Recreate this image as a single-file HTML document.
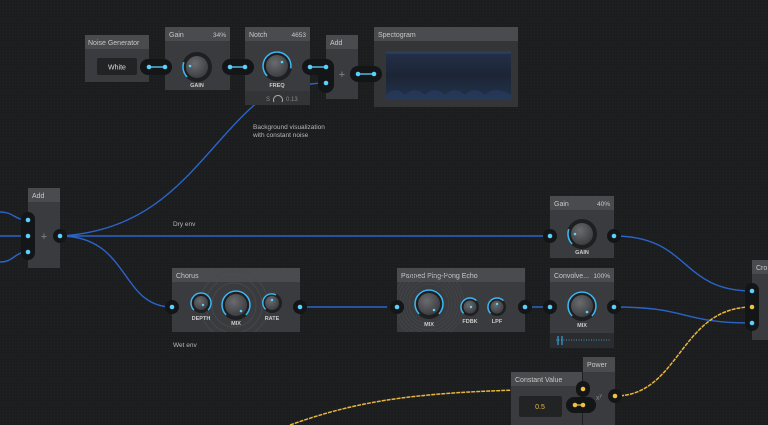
<!DOCTYPE html>
<html><head><meta charset="utf-8"><style>
html,body{margin:0;padding:0;background:#1b1c1e;width:768px;height:425px;overflow:hidden}
svg{display:block}
text{font-family:"Liberation Sans",sans-serif}
</style></head><body>
<svg width="768" height="425" viewBox="0 0 768 425" xmlns="http://www.w3.org/2000/svg">
<defs>
<pattern id="tex" width="3" height="3" patternUnits="userSpaceOnUse"><rect width="3" height="3" fill="#1c1d1f"/><rect width="1" height="1" fill="#232426"/></pattern>
<radialGradient id="kn" cx="0.4" cy="0.35" r="0.7"><stop offset="0" stop-color="#6a6b6e"/><stop offset="1" stop-color="#3a3b3e"/></radialGradient>
<linearGradient id="sp" x1="0" y1="0" x2="0" y2="1"><stop offset="0" stop-color="#23304a"/><stop offset="0.5" stop-color="#1c2535"/><stop offset="1" stop-color="#22324c"/></linearGradient>
</defs>
<rect width="768" height="425" fill="url(#tex)"/>

<!-- wires -->
<g fill="none" stroke="#2a64c8" stroke-width="1.4">
<path d="M0 212 C14 212 14 220 28 220"/>
<path d="M0 236 L28 236"/>
<path d="M0 262 C14 262 14 252 28 252"/>
<path d="M60 236 L550 236"/>
<path d="M60 236 C130 236 120 307 172 307"/>
<path d="M60 236 C170 230 200 150 260 100"/>
<path d="M290 88 C305 84 315 83 326 83"/>
<path d="M300 307 L397 307"/>
<path d="M525 307 L550 307"/>
<path d="M614 236 C690 236 680 291 752 291"/>
<path d="M614 307 C690 307 680 323 752 323"/>
</g>
<g fill="none" stroke="#e8b63c" stroke-width="1.5" stroke-dasharray="4 1">
<path d="M290 425 C360 400 420 390 583 389"/>
<path d="M615 396 C680 396 680 307 752 307"/>
</g>

<!-- Noise Generator -->
<rect x="85" y="35" width="64" height="47" fill="#3a3b3e"/>
<rect x="85" y="35" width="64" height="14" fill="#4a4b4e"/>
<text x="88" y="45" font-size="7" fill="#c8c8c8">Noise Generator</text>
<rect x="97" y="58" width="40" height="17" rx="2" fill="#222325"/>
<text x="117" y="69.5" font-size="7" fill="#ddd" text-anchor="middle">White</text>

<!-- Gain -->
<rect x="165" y="27" width="65" height="63" fill="#3a3b3e"/>
<rect x="165" y="27" width="65" height="14" fill="#4a4b4e"/>
<text x="169" y="37" font-size="7" fill="#c8c8c8">Gain</text>
<text x="226" y="37" font-size="6.5" fill="#c8c8c8" text-anchor="end">34%</text>
<circle cx="197" cy="67" r="15" fill="#1e1f21"/>
<path d="M187.1 76.9 A14 14 0 0 1 183.8 62.2" fill="none" stroke="#3fb6f0" stroke-width="1.6"/>
<circle cx="197" cy="67" r="11" fill="url(#kn)"/>
<circle cx="190" cy="66" r="1.3" fill="#5ad0ff"/>
<text x="197" y="87" font-size="5.5" fill="#ccc" text-anchor="middle" font-weight="bold">GAIN</text>

<!-- Notch -->
<rect x="245" y="27" width="65" height="78" fill="#3a3b3e"/>
<rect x="245" y="27" width="65" height="14" fill="#4a4b4e"/>
<rect x="245" y="91" width="65" height="14" fill="#333436"/>
<text x="249" y="37" font-size="7" fill="#c8c8c8">Notch</text>
<text x="306" y="37" font-size="6.5" fill="#c8c8c8" text-anchor="end">4653</text>
<circle cx="277" cy="66" r="15" fill="#1e1f21"/>
<path d="M267.1 75.9 A14 14 0 1 1 290.8 68.4" fill="none" stroke="#3fb6f0" stroke-width="1.6"/>
<circle cx="277" cy="66" r="11" fill="url(#kn)"/>
<circle cx="282" cy="62" r="1.3" fill="#5ad0ff"/>
<text x="277" y="87" font-size="5.5" fill="#ccc" text-anchor="middle" font-weight="bold">FREQ</text>
<text x="266" y="101" font-size="6" fill="#888" font-family="Liberation Mono">S</text>
<path d="M274 102 A4.5 4.5 0 1 1 282 102" fill="none" stroke="#aaa" stroke-width="1"/>
<text x="286" y="101" font-size="6" fill="#888" font-family="Liberation Mono">0.13</text>

<!-- Add top -->
<rect x="326" y="35" width="32" height="64" fill="#3a3b3e"/>
<rect x="326" y="35" width="32" height="14" fill="#4a4b4e"/>
<text x="330" y="45" font-size="7" fill="#c8c8c8">Add</text>
<text x="342" y="78" font-size="11" fill="#888" text-anchor="middle">+</text>

<!-- Spectogram -->
<rect x="374" y="27" width="144" height="80" fill="#343537"/>
<rect x="374" y="27" width="144" height="14" fill="#4a4b4e"/>
<text x="378" y="37" font-size="7" fill="#c8c8c8">Spectogram</text>
<rect x="386" y="51" width="125" height="49" fill="url(#sp)"/>
<rect x="386" y="51" width="125" height="3" fill="#2b3c58"/>
<path d="M386 100 L386 95 Q395 85 405 95 Q415 85 425 95 Q435 85 445 95 Q455 85 465 95 Q475 85 485 95 Q495 85 511 95 L511 100 Z" fill="#2a3e60" opacity="0.6"/>

<!-- connector pills top -->
<g>
<rect x="140" y="59" width="32" height="16" rx="8" fill="#141517"/>
<line x1="149" y1="67" x2="165" y2="67" stroke="#5ad0ff" stroke-width="1.3"/>
<circle cx="149" cy="67" r="2.3" fill="#5ad0ff"/><circle cx="165" cy="67" r="2.3" fill="#5ad0ff"/>
<rect x="222" y="59" width="32" height="16" rx="8" fill="#141517"/>
<line x1="230" y1="67" x2="245" y2="67" stroke="#5ad0ff" stroke-width="1.3"/>
<circle cx="230" cy="67" r="2.3" fill="#5ad0ff"/><circle cx="245" cy="67" r="2.3" fill="#5ad0ff"/>
<rect x="302" y="59" width="32" height="16" rx="8" fill="#141517"/>
<rect x="318" y="59" width="16" height="34" rx="8" fill="#141517"/>
<line x1="310" y1="67" x2="326" y2="67" stroke="#5ad0ff" stroke-width="1.3"/>
<circle cx="310" cy="67" r="2.3" fill="#5ad0ff"/><circle cx="326" cy="67" r="2.3" fill="#5ad0ff"/>
<circle cx="326" cy="83" r="2.3" fill="#5ad0ff"/>
<rect x="350" y="66" width="32" height="16" rx="8" fill="#141517"/>
<line x1="358" y1="74" x2="374" y2="74" stroke="#5ad0ff" stroke-width="1.3"/>
<circle cx="358" cy="74" r="2.3" fill="#5ad0ff"/><circle cx="374" cy="74" r="2.3" fill="#5ad0ff"/>
</g>

<text x="253" y="129" font-size="6.5" fill="#b8b8b8">Background visualization</text>
<text x="253" y="137" font-size="6.5" fill="#b8b8b8">with constant noise</text>

<!-- Add left -->
<rect x="28" y="188" width="32" height="80" fill="#3a3b3e"/>
<rect x="28" y="188" width="32" height="14" fill="#4a4b4e"/>
<text x="32" y="198" font-size="7" fill="#c8c8c8">Add</text>
<text x="44" y="240" font-size="11" fill="#888" text-anchor="middle">+</text>
<rect x="21" y="212" width="14" height="48" rx="7" fill="#141517"/>
<circle cx="28" cy="220" r="2.3" fill="#5ad0ff"/><circle cx="28" cy="236" r="2.3" fill="#5ad0ff"/><circle cx="28" cy="252" r="2.3" fill="#5ad0ff"/>
<circle cx="60" cy="236" r="7" fill="#141517"/><circle cx="60" cy="236" r="2.3" fill="#5ad0ff"/>

<text x="173" y="226" font-size="6.5" fill="#b8b8b8">Dry env</text>
<text x="173" y="347" font-size="6.5" fill="#b8b8b8">Wet env</text>

<!-- Gain 2 -->
<rect x="550" y="196" width="64" height="62" fill="#3a3b3e"/>
<rect x="550" y="196" width="64" height="14" fill="#4a4b4e"/>
<text x="554" y="206" font-size="7" fill="#c8c8c8">Gain</text>
<text x="610" y="206" font-size="6.5" fill="#c8c8c8" text-anchor="end">40%</text>
<circle cx="582" cy="234" r="15" fill="#1e1f21"/>
<path d="M572.1 243.9 A14 14 0 0 1 568.8 229.2" fill="none" stroke="#3fb6f0" stroke-width="1.6"/>
<circle cx="582" cy="234" r="11" fill="url(#kn)"/>
<circle cx="575" cy="234" r="1.3" fill="#5ad0ff"/>
<text x="582" y="254" font-size="5.5" fill="#ccc" text-anchor="middle" font-weight="bold">GAIN</text>
<circle cx="550" cy="236" r="7" fill="#141517"/><circle cx="550" cy="236" r="2.3" fill="#5ad0ff"/>
<circle cx="614" cy="236" r="7" fill="#141517"/><circle cx="614" cy="236" r="2.3" fill="#5ad0ff"/>

<!-- Chorus -->
<rect x="172" y="268" width="128" height="64" fill="#3a3b3e"/>
<rect x="172" y="268" width="128" height="14" fill="#4a4b4e"/>
<text x="176" y="278" font-size="7" fill="#c8c8c8">Chorus</text>
<g fill="none" stroke="#48494c" stroke-width="0.8"><circle cx="234" cy="305" r="22"/><circle cx="234" cy="305" r="28"/><circle cx="234" cy="305" r="34"/></g>
<rect x="172" y="332" width="128" height="10" fill="url(#tex)"/>
<rect x="172" y="258" width="128" height="10" fill="url(#tex)"/>
<circle cx="201" cy="303" r="10" fill="#1e1f21"/>
<path d="M193.9 310.1 A10 10 0 1 1 208.1 310.1" fill="none" stroke="#3fb6f0" stroke-width="1.5"/>
<circle cx="201" cy="303" r="7" fill="url(#kn)"/><circle cx="203" cy="305" r="1.2" fill="#5ad0ff"/>
<text x="201" y="320" font-size="5.5" fill="#ccc" text-anchor="middle" font-weight="bold">DEPTH</text>
<circle cx="236" cy="305" r="15" fill="#1e1f21"/>
<path d="M226.1 314.9 A14 14 0 1 1 245.9 314.9" fill="none" stroke="#3fb6f0" stroke-width="1.6"/>
<circle cx="236" cy="305" r="11" fill="url(#kn)"/><circle cx="241" cy="311" r="1.3" fill="#5ad0ff"/>
<text x="236" y="325" font-size="5.5" fill="#ccc" text-anchor="middle" font-weight="bold">MIX</text>
<circle cx="272" cy="303" r="10" fill="#1e1f21"/>
<path d="M265.6 309.4 A9 9 0 0 1 276 294.9" fill="none" stroke="#3fb6f0" stroke-width="1.5"/>
<circle cx="272" cy="303" r="7" fill="url(#kn)"/><circle cx="272" cy="300" r="1.2" fill="#5ad0ff"/>
<text x="272" y="320" font-size="5.5" fill="#ccc" text-anchor="middle" font-weight="bold">RATE</text>
<circle cx="172" cy="307" r="7" fill="#141517"/><circle cx="172" cy="307" r="2.3" fill="#5ad0ff"/>
<circle cx="300" cy="307" r="7" fill="#141517"/><circle cx="300" cy="307" r="2.3" fill="#5ad0ff"/>

<!-- Ping pong -->
<rect x="397" y="268" width="128" height="64" fill="#3a3b3e"/>
<rect x="397" y="268" width="128" height="14" fill="#4a4b4e"/>
<text x="401" y="278" font-size="7" fill="#c8c8c8">Panned Ping-Pong Echo</text>
<g fill="none" stroke="#48494c" stroke-width="0.6">
<circle cx="429" cy="304" r="20"/><circle cx="429" cy="304" r="23"/><circle cx="429" cy="304" r="26"/><circle cx="429" cy="304" r="29"/><circle cx="429" cy="304" r="32"/><circle cx="429" cy="304" r="35"/></g>
<rect x="397" y="258" width="128" height="10" fill="url(#tex)"/>
<rect x="397" y="332" width="128" height="12" fill="url(#tex)"/>
<rect x="387" y="282" width="10" height="50" fill="url(#tex)"/>
<circle cx="429" cy="304" r="15" fill="#1e1f21"/>
<path d="M419.1 313.9 A14 14 0 1 1 438.9 313.9" fill="none" stroke="#3fb6f0" stroke-width="1.6"/>
<circle cx="429" cy="304" r="11" fill="url(#kn)"/><circle cx="434" cy="310" r="1.3" fill="#5ad0ff"/>
<text x="429" y="326" font-size="5.5" fill="#ccc" text-anchor="middle" font-weight="bold">MIX</text>
<circle cx="470" cy="307" r="9" fill="#1e1f21"/>
<path d="M463.6 313.4 A9 9 0 0 1 476.4 300.6" fill="none" stroke="#3fb6f0" stroke-width="1.5"/>
<circle cx="470" cy="307" r="6.5" fill="url(#kn)"/><circle cx="471" cy="307" r="1.2" fill="#5ad0ff"/>
<text x="470" y="323" font-size="5.5" fill="#ccc" text-anchor="middle" font-weight="bold">FDBK</text>
<circle cx="497" cy="307" r="9" fill="#1e1f21"/>
<path d="M490.6 313.4 A9 9 0 0 1 503.4 300.6" fill="none" stroke="#3fb6f0" stroke-width="1.5"/>
<circle cx="497" cy="307" r="6.5" fill="url(#kn)"/><circle cx="497" cy="304" r="1.2" fill="#5ad0ff"/>
<text x="497" y="323" font-size="5.5" fill="#ccc" text-anchor="middle" font-weight="bold">LPF</text>
<circle cx="397" cy="307" r="7" fill="#141517"/><circle cx="397" cy="307" r="2.3" fill="#5ad0ff"/>
<circle cx="525" cy="307" r="7" fill="#141517"/><circle cx="525" cy="307" r="2.3" fill="#5ad0ff"/>

<!-- Convolver -->
<rect x="550" y="268" width="64" height="80" fill="#3a3b3e"/>
<rect x="550" y="268" width="64" height="14" fill="#4a4b4e"/>
<rect x="550" y="333" width="64" height="15" fill="#2b2c30"/>
<text x="554" y="278" font-size="7" fill="#c8c8c8">Convolve...</text>
<text x="610" y="278" font-size="6.5" fill="#c8c8c8" text-anchor="end">100%</text>
<circle cx="582" cy="306" r="15" fill="#1e1f21"/>
<path d="M572.1 315.9 A14 14 0 1 1 591.9 315.9" fill="none" stroke="#3fb6f0" stroke-width="1.6"/>
<circle cx="582" cy="306" r="11" fill="url(#kn)"/><circle cx="587" cy="312" r="1.3" fill="#5ad0ff"/>
<text x="582" y="327" font-size="5.5" fill="#ccc" text-anchor="middle" font-weight="bold">MIX</text>
<line x1="556" y1="340" x2="610" y2="340" stroke="#3fb6f0" stroke-width="0.8" stroke-dasharray="1 1.5"/>
<line x1="558" y1="336" x2="558" y2="345" stroke="#3fb6f0" stroke-width="1"/>
<line x1="562" y1="336" x2="562" y2="345" stroke="#3fb6f0" stroke-width="1"/>
<circle cx="550" cy="307" r="7" fill="#141517"/><circle cx="550" cy="307" r="2.3" fill="#5ad0ff"/>
<circle cx="614" cy="307" r="7" fill="#141517"/><circle cx="614" cy="307" r="2.3" fill="#5ad0ff"/>

<!-- Cross (right) -->
<rect x="752" y="260" width="16" height="80" fill="#3a3b3e"/>
<rect x="752" y="260" width="16" height="14" fill="#4a4b4e"/>
<text x="756" y="270" font-size="7" fill="#c8c8c8">Cro</text>
<rect x="745" y="283" width="14" height="48" rx="7" fill="#141517"/>
<circle cx="752" cy="291" r="2.3" fill="#5ad0ff"/><circle cx="752" cy="307" r="2.3" fill="#f0c040"/><circle cx="752" cy="323" r="2.3" fill="#5ad0ff"/>

<!-- Constant Value -->
<rect x="511" y="372" width="71" height="53" fill="#3a3b3e"/>
<rect x="511" y="372" width="71" height="14" fill="#4a4b4e"/>
<text x="515" y="382" font-size="7" fill="#c8c8c8">Constant Value</text>
<rect x="519" y="396" width="43" height="21" rx="2" fill="#222325"/>
<text x="540" y="409" font-size="7" fill="#e6b84a" text-anchor="middle">0.5</text>

<!-- Power -->
<rect x="583" y="357" width="32" height="68" fill="#3a3b3e"/>
<rect x="583" y="357" width="32" height="15" fill="#4a4b4e"/>
<text x="587" y="367" font-size="7" fill="#c8c8c8">Power</text>
<text x="596" y="400" font-size="7" fill="#888">x<tspan font-size="5" dy="-3">y</tspan></text>
<rect x="576" y="381" width="14" height="16" rx="7" fill="#141517"/>
<rect x="566" y="397" width="30" height="16" rx="8" fill="#141517"/>
<circle cx="583" cy="389" r="2.3" fill="#f0c040"/>
<line x1="575" y1="405" x2="583" y2="405" stroke="#f0c040" stroke-width="1.2"/>
<circle cx="575" cy="405" r="2.3" fill="#f0c040"/><circle cx="583" cy="405" r="2.3" fill="#f0c040"/>
<circle cx="615" cy="396" r="7" fill="#141517"/><circle cx="615" cy="396" r="2.3" fill="#f0c040"/>
</svg>
</body></html>
